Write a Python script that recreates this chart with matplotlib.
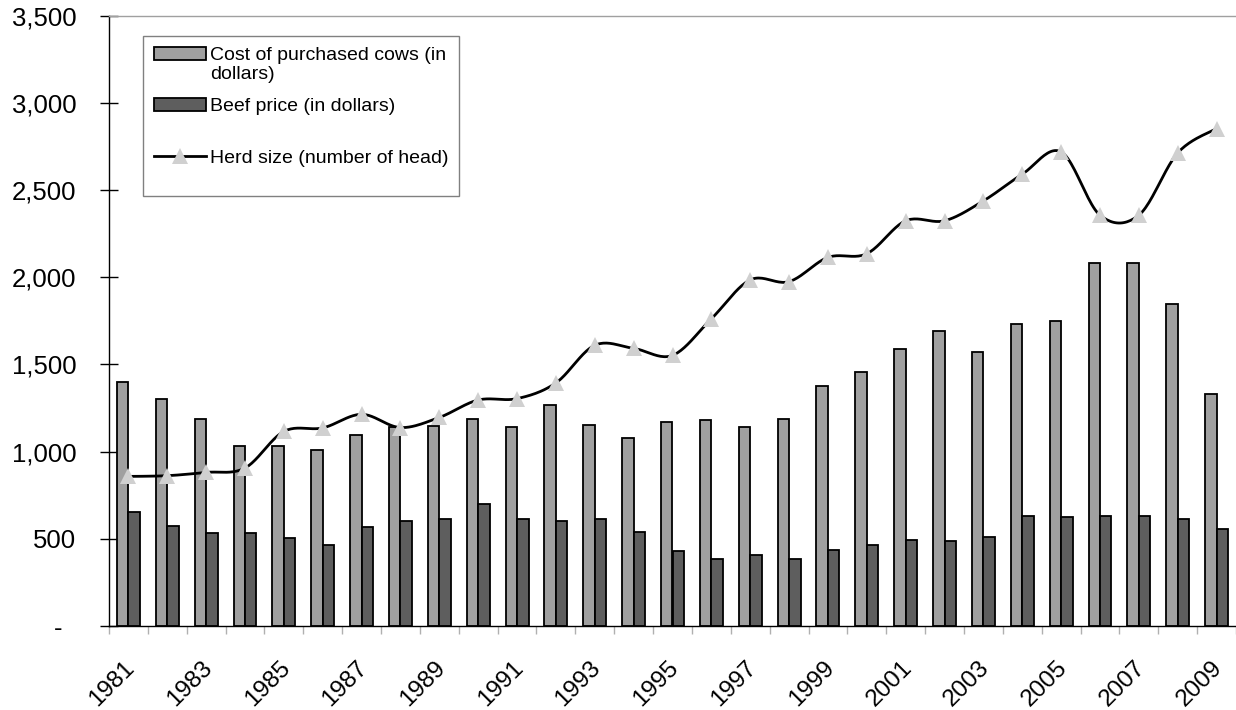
import numpy as np
import matplotlib
matplotlib.use("Agg")
import matplotlib.pyplot as plt
from matplotlib.lines import Line2D
from matplotlib.transforms import ScaledTranslation
from matplotlib.ticker import FuncFormatter, MultipleLocator

years = list(range(1981, 2010))

# cost of purchased cows (dollars)
cow_cost = [1400, 1300, 1188, 1030, 1031, 1008, 1096, 1144, 1148, 1188,
            1144, 1268, 1153, 1078, 1168, 1180, 1139, 1185, 1376, 1456,
            1586, 1692, 1574, 1732, 1747, 2084, 2084, 1844, 1329]

# beef price (dollars)
beef_price = [651, 573, 535, 531, 506, 464, 565, 605, 611, 700,
              613, 601, 613, 537, 430, 384, 407, 386, 434, 464,
              493, 489, 510, 628, 623, 628, 628, 611, 554]

# herd size (number of head)
herd_size = [858, 862, 881, 906, 1116, 1136, 1214, 1138, 1196, 1296,
             1304, 1394, 1610, 1592, 1552, 1762, 1985, 1975, 2114, 2135,
             2324, 2324, 2438, 2591, 2719, 2356, 2356, 2713, 2853]

light = '#A0A0A0'
dark = '#5E5E5E'
marker_col = '#D0D0D0'

plt.rcParams['font.family'] = ['Liberation Sans', 'DejaVu Sans']


def smooth_curve(x, y, n=24):
    # bezier smoothing through every point (like a spreadsheet "smoothed line")
    pts = np.column_stack([x, y]).astype(float)
    P = np.vstack([pts[0], pts, pts[-1]])
    out = []
    t = np.linspace(0, 1, n)[:, None]
    for i in range(len(pts) - 1):
        p0, p1, p2, p3 = P[i], P[i + 1], P[i + 2], P[i + 3]
        c1 = p1 + (p2 - p0) / 6.0
        c2 = p2 - (p3 - p1) / 6.0
        seg = (1 - t) ** 3 * p1 + 3 * (1 - t) ** 2 * t * c1 + 3 * (1 - t) * t ** 2 * c2 + t ** 3 * p2
        out.append(seg if i == 0 else seg[1:])
    out = np.vstack(out)
    return out[:, 0], out[:, 1]


def main():
    fig = plt.figure(figsize=(12.36, 7.10), dpi=100)
    ax = fig.add_axes([109 / 1236, 1 - 626 / 710, 1127 / 1236, 610.3 / 710])

    x = np.arange(len(years))
    w = 0.295
    b1 = ax.bar(x - w / 2, cow_cost, width=w, color=light, edgecolor='black', linewidth=1.3, zorder=2)
    b2 = ax.bar(x + w / 2, beef_price, width=w, color=dark, edgecolor='black', linewidth=1.3, zorder=2)

    sx, sy = smooth_curve(x, herd_size)
    ax.plot(sx, sy, color='black', linewidth=2, zorder=3)
    ax.plot(x, herd_size, linestyle='none', marker='^', markersize=11,
            markerfacecolor=marker_col, markeredgewidth=0, zorder=4)

    ax.set_xlim(-0.5, len(years) - 0.5)
    ax.set_ylim(0, 3500)

    # y axis
    ax.yaxis.set_major_locator(MultipleLocator(500))
    ax.yaxis.set_major_formatter(FuncFormatter(lambda v, p: '-  ' if v == 0 else '{:,.0f}'.format(v)))
    ax.tick_params(axis='y', which='major', direction='inout', length=13, width=1,
                   labelsize=18.5, pad=17, color='black')

    # x axis: labels every other year, minor ticks between categories
    ax.set_xticks(x[::2])
    ax.set_xticklabels([str(y) for y in years[::2]])
    ax.set_xticks(np.arange(-0.5, len(years), 1.0), minor=True)
    ax.tick_params(axis='x', which='major', length=0, labelsize=17.5, pad=31 * 0.72)
    ax.tick_params(axis='x', which='minor', direction='out', length=6, width=1, color='#B0B0B0')
    offset = ScaledTranslation(-0.05, 0, fig.dpi_scale_trans)
    for lab in ax.get_xticklabels():
        lab.set_rotation(45)
        lab.set_ha('right')
        lab.set_va('top')
        lab.set_rotation_mode('anchor')
        lab.set_transform(lab.get_transform() + offset)

    ax.spines['right'].set_visible(False)
    ax.spines['top'].set_color('#A0A0A0')
    ax.spines['top'].set_linewidth(1)
    ax.spines['left'].set_linewidth(1)
    ax.spines['bottom'].set_linewidth(1)

    herd_handle = Line2D([], [], color='black', linewidth=2, marker='^', markersize=11,
                         markerfacecolor=marker_col, markeredgewidth=0)
    leg = ax.legend([b1, b2, herd_handle],
                    ['Cost of purchased cows (in\ndollars)',
                     'Beef price (in dollars)\n ',
                     'Herd size (number of head)\n '],
                    loc='upper left', bbox_to_anchor=(34 / 1127, 590 / 610.3),
                    borderaxespad=0, fontsize=14, frameon=True, fancybox=False,
                    edgecolor='#808080', framealpha=1, numpoints=1,
                    handlelength=2.7, handleheight=0.65, handletextpad=0.2,
                    labelspacing=0.8, borderpad=0.55)
    leg.get_frame().set_linewidth(1)
    for t in leg.get_texts():
        t.set_linespacing(1.15)
    # put each handle next to the first line of its label
    for item in leg._legend_handle_box.get_children()[0].get_children():
        item.align = 'top'

    plt.savefig('out.png', dpi=100)


if __name__ == "__main__":
    main()
